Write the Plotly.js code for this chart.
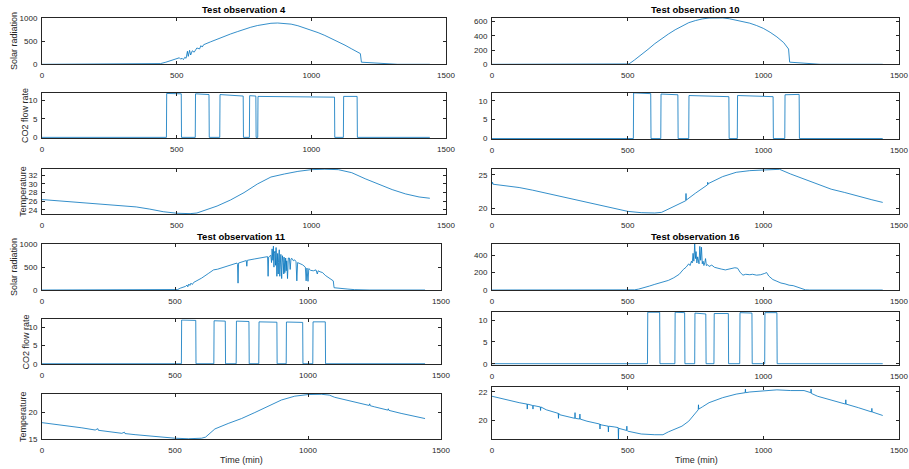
<!DOCTYPE html>
<html><head><meta charset="utf-8">
<script src="https://cdn.plot.ly/plotly-3.0.1.min.js"></script>
<style>html,body{margin:0;padding:0;background:#fff}#chart{width:909px;height:469px}</style>
</head><body><div id="chart"></div>
<script>
// ---- Data: [time (min), value] ----
const obs4Solar = [[0,0],[300,0],[420,0],[440,15],[460,45],[480,85],[500,130],[510,140],[515,110],[520,130],[525,100],[530,150],[535,130],[540,280],[543,170],[548,300],[552,200],[558,290],[565,260],[575,350],[585,330],[590,400],[595,370],[600,420],[625,480],[650,540],[675,600],[700,650],[725,700],[750,750],[775,795],[800,832],[825,862],[850,880],[875,886],[900,880],[925,862],[950,828],[975,782],[1000,730],[1025,680],[1050,620],[1075,555],[1100,480],[1125,410],[1150,330],[1175,250],[1182,230],[1186,45],[1200,40],[1230,30],[1260,15],[1290,3],[1320,0],[1440,0]];
const obs4CO2 = [[0,0],[462,0],[463,11.8],[517,11.7],[518,0],[569,0],[570,11.7],[620,11.5],[621,0],[660,0],[661,11.5],[747,11.1],[748,0],[770,0],[771,11.2],[794,11.1],[795,0],[801,0],[802,11.0],[1086,10.8],[1087,0],[1119,0],[1120,11.0],[1170,11.0],[1171,0],[1440,0]];
const obs4Temp = [[0,26.4],[50,26.15],[100,25.9],[150,25.65],[200,25.45],[250,25.2],[300,24.95],[350,24.7],[400,24.2],[450,23.6],[500,23.25],[550,23.15],[575,23.3],[600,23.8],[650,24.9],[700,26.3],[750,28.0],[800,30.0],[850,31.6],[900,32.3],[950,32.9],[1000,33.3],[1050,33.4],[1100,33.3],[1150,32.6],[1200,31.2],[1250,30.0],[1300,28.7],[1350,27.7],[1400,27.0],[1440,26.7]];

const obs10Solar = [[0,0],[500,0],[505,5],[525,60],[550,130],[575,210],[600,290],[625,360],[650,425],[675,485],[700,540],[725,585],[750,615],[775,638],[800,650],[825,655],[850,652],[875,640],[900,622],[925,600],[950,578],[975,545],[1000,505],[1025,450],[1050,385],[1075,305],[1093,215],[1097,30],[1120,25],[1150,18],[1180,8],[1210,0],[1440,0]];
const obs10CO2 = [[0,0],[521,0],[522,12.1],[585,11.9],[586,0],[622,0],[623,11.8],[685,11.6],[686,0],[725,0],[726,11.4],[873,11.1],[874,0],[904,0],[905,11.4],[1036,11.1],[1037,0],[1079,0],[1080,11.6],[1132,11.7],[1133,0],[1440,0]];
const obs10Temp = [[0,23.6],[2,23.9],[4,23.6],[50,23.4],[100,23.1],[150,22.7],[200,22.25],[250,21.8],[300,21.35],[350,20.9],[400,20.5],[450,20.0],[500,19.5],[550,19.3],[600,19.25],[625,19.35],[650,19.85],[700,20.75],[714,21.1],[715,22.2],[716,21.2],[750,22.25],[794,23.5],[795,23.9],[796,23.6],[800,23.75],[850,24.75],[900,25.4],[950,25.65],[1000,25.75],[1050,25.8],[1060,25.85],[1100,25.15],[1150,24.35],[1200,23.55],[1250,22.85],[1300,22.35],[1350,21.75],[1400,21.25],[1440,20.85]];

const obs11Solar = [[0,0],[500,0],[510,10],[520,40],[530,60],[540,80],[545,110],[548,70],[552,130],[556,100],[560,150],[565,120],[570,165],[600,260],[625,360],[645,440],[660,455],[700,520],[733,590],[735,560],[737,150],[739,590],[760,630],[768,645],[770,520],[772,650],[800,680],[830,710],[848,730],[850,300],[852,720],[860,760],[863,600],[865,900],[868,650],[870,960],[872,500],[873,800],[876,850],[878,540],[880,930],[882,400],[883,300],[886,800],[888,350],[889,600],[892,880],[894,300],[895,450],[898,780],[900,500],[901,250],[904,750],[907,600],[909,350],[910,720],[913,380],[916,700],[918,420],[920,640],[923,250],[926,700],[930,700],[933,450],[936,680],[940,690],[945,640],[950,660],[955,620],[958,200],[961,600],[970,580],[980,550],[990,500],[993,200],[996,480],[1000,190],[1003,470],[1010,430],[1020,420],[1030,440],[1035,350],[1038,420],[1045,400],[1055,380],[1065,320],[1080,260],[1095,200],[1098,50],[1110,40],[1130,30],[1150,20],[1175,8],[1200,2],[1230,0],[1440,0]];
const obs11CO2 = [[0,0],[524,0],[525,12.0],[578,11.9],[579,0],[646,0],[647,11.8],[689,11.7],[690,0],[730,0],[731,11.7],[778,11.6],[779,0],[815,0],[816,11.5],[883,11.4],[884,0],[918,0],[919,11.45],[980,11.35],[981,0],[1018,0],[1019,11.5],[1065,11.5],[1066,0],[1440,0]];
const obs11Temp = [[0,18.05],[50,17.75],[100,17.45],[150,17.1],[200,16.7],[210,16.95],[212,16.65],[250,16.4],[300,16.1],[310,16.3],[312,16.05],[350,15.85],[400,15.6],[450,15.4],[500,15.2],[550,15.1],[600,15.2],[615,15.4],[650,16.9],[700,17.9],[750,18.8],[800,19.9],[850,21.1],[900,22.2],[950,22.9],[1000,23.2],[1050,23.25],[1080,23.1],[1100,22.7],[1150,22.1],[1200,21.45],[1230,21.2],[1232,21.5],[1234,21.15],[1250,20.95],[1300,20.35],[1302,20.6],[1304,20.3],[1350,19.75],[1400,19.25],[1440,18.8]];

const obs16Solar = [[0,0],[515,0],[525,2],[540,10],[560,25],[580,45],[600,65],[625,90],[650,110],[670,140],[690,180],[705,235],[715,260],[725,300],[730,280],[735,330],[738,310],[741,420],[744,330],[747,527],[750,360],[752,440],[755,310],[758,380],[760,320],[763,300],[766,500],[769,340],[772,490],[775,300],[778,330],[781,280],[784,310],[787,360],[790,280],[795,290],[800,270],[810,285],[820,260],[830,250],[845,240],[860,230],[875,240],[895,255],[905,250],[915,200],[925,170],[935,180],[950,175],[960,180],[975,170],[990,175],[1005,190],[1012,200],[1020,160],[1035,120],[1050,100],[1065,80],[1080,70],[1095,55],[1110,50],[1125,35],[1140,20],[1155,2],[1170,0],[1440,0]];
const obs16CO2 = [[0,0],[573,0],[574,11.8],[618,11.8],[619,0],[674,0],[675,11.8],[710,11.7],[711,0],[747,0],[748,11.6],[788,11.4],[789,0],[818,0],[819,11.5],[871,11.5],[872,0],[913,0],[914,11.7],[958,11.6],[959,0],[1005,0],[1006,11.7],[1050,11.7],[1051,0],[1440,0]];
const obs16Temp = [[0,21.7],[50,21.45],[100,21.25],[129,21.15],[130,20.8],[131,21.15],[150,21.05],[151,20.8],[152,21.05],[178,20.95],[179,20.7],[180,20.95],[200,20.75],[244,20.5],[245,20.15],[246,20.5],[250,20.4],[300,20.2],[305,20.15],[306,20.55],[307,20.15],[323,20.1],[324,20.45],[325,20.1],[350,19.95],[397,19.75],[398,19.4],[399,19.75],[400,19.7],[428,19.6],[429,19.2],[430,19.6],[450,19.55],[465,19.5],[466,18.7],[467,19.45],[496,19.3],[497,19.6],[498,19.3],[500,19.25],[550,19.05],[600,19.0],[630,19.0],[650,19.2],[700,19.6],[725,19.95],[750,20.55],[760,20.75],[761,21.1],[762,20.8],[775,20.95],[800,21.25],[850,21.6],[900,21.85],[933,21.95],[934,22.2],[935,21.95],[950,22.0],[1000,22.1],[1050,22.15],[1100,22.1],[1150,22.1],[1175,21.95],[1176,22.2],[1177,21.9],[1200,21.7],[1250,21.45],[1300,21.2],[1303,21.15],[1304,21.45],[1305,21.15],[1350,20.9],[1399,20.6],[1400,20.85],[1401,20.6],[1440,20.35]];

const xTicks = [0, 500, 1000, 1500];
const titles = ['Test observation 4', 'Test observation 10', 'Test observation 11', 'Test observation 16'];
const yLabels = ['Solar radiation', 'CO2 flow rate', 'Temperature'];
const xLabel = 'Time (min)';

// ---- Layout ----
const W = 909, H = 469;
const FONT = 'Liberation Sans, Arial, Helvetica, sans-serif';
const INK = '#262626';
const BLUE = '#0072BD';

const panels = [
  {d: obs4Solar,  box:[42,446,17.7,64.3],  yr:[0,1000],      dy:500},
  {d: obs4CO2,    box:[42,446,92.7,138.3], yr:[-0.25,12],    dy:5},
  {d: obs4Temp,   box:[42,446,169,214.3],  yr:[23.0,33.45],  dy:2},
  {d: obs11Solar, box:[42,441,244.3,290],  yr:[0,1000],      dy:500},
  {d: obs11CO2,   box:[42,441,319.3,364.3],yr:[-0.15,12.2],  dy:5},
  {d: obs11Temp,  box:[42,441,394,439.3],  yr:[15,23.3],     dy:5},
  {d: obs10Solar, box:[492,899,17.7,64.3], yr:[0,655],       dy:200},
  {d: obs10CO2,   box:[492,899,92.7,139.3],yr:[-0.2,12.15],  dy:5},
  {d: obs10Temp,  box:[492,899,169,214],   yr:[19.1,25.9],   dy:5},
  {d: obs16Solar, box:[492,899,244,290],   yr:[0,527],       dy:200},
  {d: obs16CO2,   box:[492,899,312,365],   yr:[-0.3,11.85],  dy:5},
  {d: obs16Temp,  box:[492,899,387,439],   yr:[18.7,22.35],  dy:2},
];

const axBase = {
  showline: true, linecolor: INK, linewidth: 1, mirror: 'ticks',
  ticks: 'inside', ticklen: 3, tickcolor: INK, tickwidth: 1,
  showgrid: false, zeroline: false, fixedrange: true,
  tickfont: {family: FONT, size: 8, color: INK}
};

const traces = [];
const layout = {
  width: W, height: H, margin: {l:0, r:0, t:0, b:0},
  paper_bgcolor: '#fff', plot_bgcolor: '#fff', showlegend: false,
  annotations: []
};

panels.forEach((p, i) => {
  const s = i === 0 ? '' : String(i + 1);
  const [x0, x1, y0, y1] = p.box;
  traces.push({
    type: 'scatter', mode: 'lines',
    x: p.d.map(r => r[0]), y: p.d.map(r => r[1]),
    xaxis: 'x' + s, yaxis: 'y' + s,
    line: {color: BLUE, width: 0.8}, hoverinfo: 'skip'
  });
  layout['xaxis' + s] = Object.assign({}, axBase, {
    domain: [x0 / W, x1 / W], range: [0, 1500], tickvals: xTicks,
    anchor: 'y' + s, ticklabelstandoff: 3
  });
  layout['yaxis' + s] = Object.assign({}, axBase, {
    domain: [1 - y1 / H, 1 - y0 / H], range: p.yr, dtick: p.dy, tick0: 0,
    anchor: 'x' + s, ticklabelstandoff: 2
  });
});

function ann(text, px, py, opts) {
  layout.annotations.push(Object.assign({
    text: text, xref: 'paper', yref: 'paper', x: px / W, y: 1 - py / H,
    xanchor: 'center', yanchor: 'middle', showarrow: false,
    font: {family: FONT, size: 9, color: INK}
  }, opts || {}));
}

const titleFont = {family: FONT, size: 9.5, color: '#000'};
ann('<b>' + titles[0] + '</b>', 244, 10, {font: titleFont});
ann('<b>' + titles[1] + '</b>', 695.5, 10, {font: titleFont});
ann('<b>' + titles[2] + '</b>', 241.5, 236, {font: titleFont});
ann('<b>' + titles[3] + '</b>', 695.5, 236, {font: titleFont});

// y labels (left column only)
ann(yLabels[0], 14, 41, {textangle: -90});
ann(yLabels[1], 25.5, 115.5, {textangle: -90});
ann(yLabels[2], 23, 191.7, {textangle: -90});
ann(yLabels[0], 14, 267, {textangle: -90});
ann(yLabels[1], 25.5, 342, {textangle: -90});
ann(yLabels[2], 23, 417, {textangle: -90});

// x labels
ann(xLabel, 242, 460);
ann(xLabel, 696, 460);

Plotly.newPlot('chart', traces, layout, {staticPlot: true, displayModeBar: false});
</script>
</body></html>
